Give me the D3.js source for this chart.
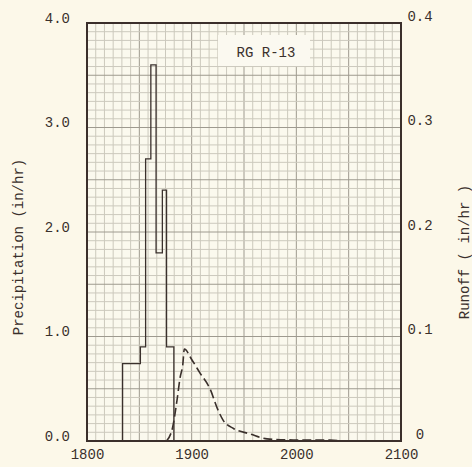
<!DOCTYPE html>
<html>
<head>
<meta charset="utf-8">
<script src="https://cdn.jsdelivr.net/npm/d3@7"></script>
<style>
  html, body { margin: 0; padding: 0; background: #fcf8e9; }
  svg { display: block; }
  text { font-family: "Liberation Mono", "DejaVu Sans Mono", monospace; fill: #3a302c; }
</style>
</head>
<body>
<svg id="chart" width="472" height="467"></svg>
<script>
// ---- data ----
const xDomain = [1800, 2100];
const precipDomain = [0, 4];
const runoffDomain = [0, 0.4];
const xTickValues = [1800, 1900, 2000, 2100];
const precipTickValues = [0, 1, 2, 3, 4];
const precipTickLabels = ["0.0", "1.0", "2.0", "3.0", "4.0"];
const runoffTickValues = [0, 0.1, 0.2, 0.3, 0.4];
const runoffTickLabels = ["0", "0.1", "0.2", "0.3", "0.4"];

// hyetograph: interval edges (time) and intensity in each interval
const precipEdges = [1834, 1851, 1856, 1861, 1866, 1872, 1876, 1883];
const precipValues = [0.74, 0.9, 2.7, 3.6, 1.8, 2.4, 0.9];

// runoff hydrograph
const runoffTimes  = [1876, 1882, 1886, 1889, 1891.5, 1893, 1900, 1908, 1917.5, 1925, 1930, 1940, 1956, 1972, 1997, 2032, 2045];
const runoffValues = [0, 0.014, 0.039, 0.061, 0.073, 0.088, 0.078, 0.065, 0.050, 0.030, 0.020, 0.012, 0.0067, 0.002, 0.001, 0.0008, 0];

const labelText = "RG R-13";
const yTitleLeft = "Precipitation (in/hr)";
const yTitleRight = "Runoff ( in/hr )";

// ---- layout ----
const L = 87, R = 401, T = 23, B = 441;
const svg = d3.select("#chart");

const x = d3.scaleLinear().domain(xDomain).range([L, R]);
const yP = d3.scaleLinear().domain(precipDomain).range([B, T]);
const yR = d3.scaleLinear().domain(runoffDomain).range([B, T]);

// plot background
svg.append("rect").attr("x", L).attr("y", T).attr("width", R - L).attr("height", B - T)
  .attr("fill", "#fbf9ee");

// grid
const g = svg.append("g");
const minorX = d3.range(0, 37).map(i => xDomain[0] + i * 100 / 12);
const minorY = d3.range(0, 49).map(i => i / 12);
g.selectAll("line.vx").data(minorX).join("line")
  .attr("x1", d => x(d)).attr("x2", d => x(d)).attr("y1", T).attr("y2", B)
  .attr("stroke", (d, i) => i % 6 === 0 ? "#9e9a8f" : "#ccc9bd")
  .attr("stroke-width", 1);
g.selectAll("line.hy").data(minorY).join("line")
  .attr("y1", d => yP(d)).attr("y2", d => yP(d)).attr("x1", L).attr("x2", R)
  .attr("stroke", (d, i) => i % 6 === 0 ? "#9e9a8f" : "#ccc9bd")
  .attr("stroke-width", 1);

// label box
svg.append("rect").attr("x", 218).attr("y", 35).attr("width", 92).attr("height", 31)
  .attr("fill", "#fbf9f0");
svg.append("text").attr("x", 266).attr("y", 57).attr("text-anchor", "middle")
  .attr("font-size", 14).text(labelText);

// hyetograph step outline
const stepPts = [[precipEdges[0], 0]];
precipValues.forEach((v, i) => { stepPts.push([precipEdges[i], v]); stepPts.push([precipEdges[i + 1], v]); });
stepPts.push([precipEdges[precipEdges.length - 1], 0]);
svg.append("path")
  .attr("d", d3.line().x(d => x(d[0])).y(d => yP(d[1]))(stepPts))
  .attr("fill", "none").attr("stroke", "#3a302c").attr("stroke-width", 1.3);

// runoff dashed curve
const runoffPts = runoffTimes.map((t, i) => [t, runoffValues[i]]);
svg.append("path")
  .attr("d", d3.line().x(d => x(d[0])).y(d => yR(d[1])).curve(d3.curveMonotoneX)(runoffPts))
  .attr("fill", "none").attr("stroke", "#3a302c").attr("stroke-width", 1.6)
  .attr("stroke-dasharray", "9,4");

// frame
svg.append("rect").attr("x", L).attr("y", T).attr("width", R - L).attr("height", B - T)
  .attr("fill", "none").attr("stroke", "#3b2f2b").attr("stroke-width", 2);

// axes (labels only)
const axX = d3.axisBottom(x).tickValues(xTickValues).tickSize(0).tickPadding(0).tickFormat(d3.format("d"));
const gx = svg.append("g").attr("transform", `translate(0, ${B})`).call(axX);
gx.select(".domain").remove();
gx.selectAll("text").attr("y", 18).attr("dy", 0).attr("font-size", 14)
  .attr("font-family", null).attr("fill", null);

const axL = d3.axisLeft(yP).tickValues(precipTickValues).tickSize(0)
  .tickFormat((d, i) => precipTickLabels[i]);
const gl = svg.append("g").attr("transform", `translate(70, 0)`).call(axL);
gl.select(".domain").remove();
gl.selectAll("text").attr("x", 0).attr("dy", "-0.05em").attr("font-size", 14)
  .attr("font-family", null).attr("fill", null);

const axR = d3.axisRight(yR).tickValues(runoffTickValues).tickSize(0)
  .tickFormat((d, i) => runoffTickLabels[i]);
const gr = svg.append("g").attr("transform", `translate(420, 0)`).call(axR);
gr.select(".domain").remove();
gr.selectAll("text").attr("x", 0).attr("text-anchor", "middle").attr("dy", "-0.2em").attr("font-size", 14)
  .attr("font-family", null).attr("fill", null);

// axis titles
svg.append("text").attr("transform", "translate(23, 247) rotate(-90)")
  .attr("text-anchor", "middle").attr("font-size", 14).text(yTitleLeft);
svg.append("text").attr("transform", "translate(469, 252) rotate(-90)")
  .attr("text-anchor", "middle").attr("font-size", 14).text(yTitleRight);
</script>
</body>
</html>
